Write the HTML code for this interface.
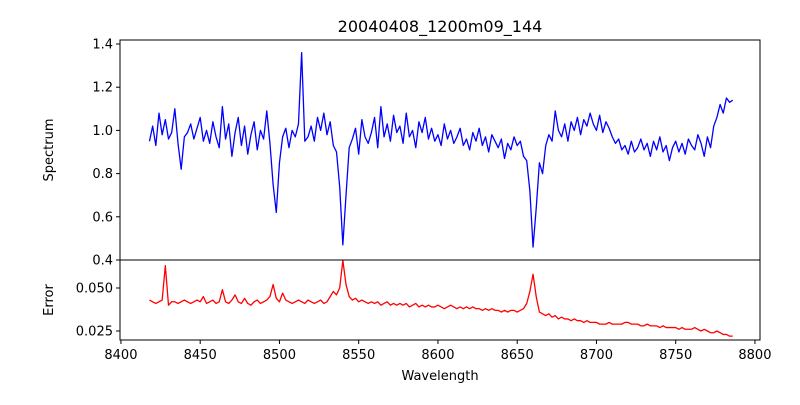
<!DOCTYPE html>
<html><head><meta charset="utf-8"><style>
body{margin:0;background:#fff;font-family:"Liberation Sans","DejaVu Sans",sans-serif}
svg text{font-family:"DejaVu Sans","Liberation Sans",sans-serif;fill:#000}
</style></head><body>
<svg id="chart" width="800" height="400" xmlns="http://www.w3.org/2000/svg">
<rect width="800" height="400" fill="#fff"/>
<text x="440" y="32" text-anchor="middle" font-size="16">20040408_1200m09_144</text>
<g id="top"></g><g id="bot"></g>
<text transform="translate(53,150) rotate(-90)" text-anchor="middle" font-size="13">Spectrum</text>
<text transform="translate(53,300) rotate(-90)" text-anchor="middle" font-size="13">Error</text>
<text x="440" y="380" text-anchor="middle" font-size="13">Wavelength</text>
</svg>
<script>
const waveStart = 8418;
const waveStep = 2;
const flux = [
0.95,1.02,0.93,1.08,0.98,1.05,0.96,0.99,1.10,0.94,
0.82,0.97,0.99,1.03,0.96,1.01,1.06,0.95,1.00,0.94,
1.04,0.97,0.92,1.11,0.96,1.03,0.88,0.99,1.06,0.93,
1.02,0.89,0.98,1.04,0.91,1.00,0.96,1.09,0.94,0.75,
0.62,0.85,0.97,1.01,0.92,1.00,0.97,1.03,1.36,0.95,
0.97,1.02,0.95,1.06,1.00,1.08,0.98,1.04,0.93,0.90,
0.74,0.47,0.70,0.92,0.96,1.01,0.89,1.05,0.97,0.94,
0.99,1.06,0.92,1.11,0.97,1.03,0.95,1.07,0.99,1.02,
0.94,1.08,0.97,1.00,0.92,1.04,0.99,1.06,0.96,1.01,
0.95,0.98,0.93,1.03,0.96,1.00,0.94,0.97,1.01,0.93,
0.96,0.91,0.99,0.95,1.01,0.93,0.97,0.90,0.98,0.95,
0.92,0.96,0.87,0.94,0.91,0.97,0.93,0.95,0.88,0.86,
0.72,0.46,0.64,0.85,0.80,0.93,0.98,0.95,1.09,1.00,
0.97,1.03,0.95,1.04,1.00,1.06,0.98,1.05,1.02,1.08,
1.03,1.00,1.07,0.99,1.04,1.01,0.97,0.94,0.96,0.91,
0.93,0.89,0.95,0.90,0.92,0.96,0.91,0.94,0.88,0.95,
0.91,0.97,0.90,0.93,0.86,0.92,0.95,0.90,0.94,0.89,
0.96,0.93,0.91,0.98,0.94,0.88,0.97,0.92,1.02,1.06,
1.12,1.08,1.15,1.13,1.14];
const err = [
.043,.042,.041,.042,.043,.063,.040,.042,.042,.041,
.042,.043,.042,.041,.042,.043,.042,.045,.041,.042,
.043,.041,.042,.049,.042,.041,.043,.046,.042,.041,
.044,.041,.040,.042,.043,.041,.042,.043,.045,.052,
.044,.042,.047,.043,.042,.041,.042,.043,.042,.041,
.043,.042,.041,.042,.043,.041,.042,.045,.048,.046,
.050,.066,.052,.045,.043,.044,.042,.043,.042,.041,
.042,.041,.042,.040,.041,.042,.040,.041,.040,.041,
.040,.041,.039,.040,.041,.039,.040,.039,.040,.039,
.039,.040,.039,.038,.039,.040,.039,.038,.039,.038,
.039,.038,.039,.038,.038,.037,.038,.037,.038,.037,
.037,.036,.037,.036,.037,.037,.036,.037,.038,.041,
.048,.058,.045,.036,.035,.034,.035,.033,.034,.032,
.033,.032,.032,.031,.032,.031,.031,.030,.031,.030,
.030,.030,.029,.029,.029,.030,.029,.029,.029,.029,
.030,.030,.029,.029,.029,.028,.028,.029,.028,.028,
.028,.027,.028,.027,.027,.027,.027,.026,.027,.026,
.026,.026,.027,.026,.025,.026,.025,.024,.024,.025,
.024,.023,.023,.022,.022];
const xTicks = [8400,8450,8500,8550,8600,8650,8700,8750,8800];
const fluxTicks = [0.4,0.6,0.8,1.0,1.2,1.4];
const fluxTickLabels = ["0.4","0.6","0.8","1.0","1.2","1.4"];
const errTicks = [0.025,0.050];
const errTickLabels = ["0.025","0.050"];

const NS="http://www.w3.org/2000/svg";
const L=120,R=760;
const xs=v=>L+(v-8399.4)*1.585;
const yTop=v=>260-(v-0.4)*216;
const yBot=v=>288-(v-0.05)*1720;
function mk(tag,parent,attrs){const e=document.createElementNS(NS,tag);for(const k in attrs)e.setAttribute(k,attrs[k]);parent.appendChild(e);return e;}
const svg=document.getElementById('chart');
function panel(g,y0,y1,vals,ys,color,ticks,labels,nameBase){
  const pts=vals.map((v,i)=>xs(waveStart+i*waveStep).toFixed(2)+','+ys(v).toFixed(2)).join(' ');
  const line=mk('polyline',g,{points:pts,fill:'none',stroke:color,'stroke-width':1.3,'stroke-linejoin':'round'});
  
  
  const fr=mk('rect',g,{x:L,y:y0,width:R-L,height:y1-y0,fill:'none',stroke:'#000','stroke-width':1});
  
  
  ticks.forEach((t,i)=>{
    const y=ys(t);
    mk('line',g,{x1:L-4,x2:L,y1:y,y2:y,stroke:'#000'});
    const tx=mk('text',g,{x:L-7,y:y+4.5,'text-anchor':'end','font-size':13});
    tx.textContent=labels[i];
    
    
  });
}
panel(document.getElementById('top'),40,260,flux,yTop,'#0000ff',fluxTicks,fluxTickLabels,'spectrum');
panel(document.getElementById('bot'),260,340,err,yBot,'#ff0000',errTicks,errTickLabels,'error');
const bg=document.getElementById('bot');
xTicks.forEach(t=>{
  const x=xs(t);
  mk('line',bg,{x1:x,x2:x,y1:340,y2:344,stroke:'#000'});
  const tx=mk('text',bg,{x:x,y:359,'text-anchor':'middle','font-size':13});
  tx.textContent=t;
  
  
});
</script>
</body></html>
